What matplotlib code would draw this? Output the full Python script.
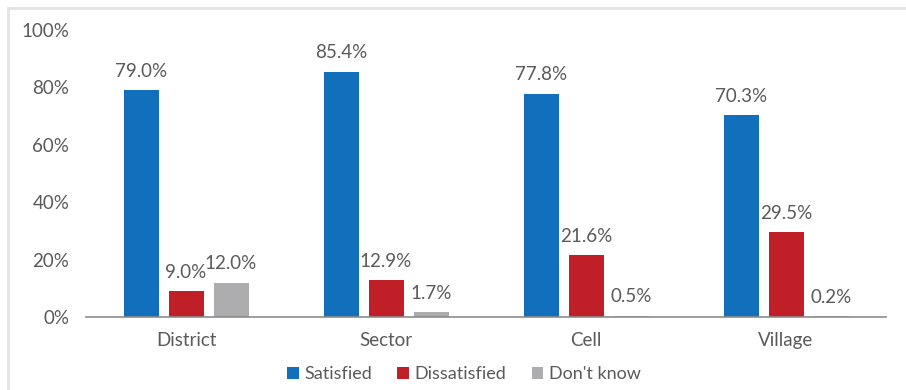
import matplotlib.pyplot as plt
import numpy as np
from matplotlib.lines import Line2D

plt.rcParams['font.family'] = ['Lato', 'DejaVu Sans']

levels = ['District', 'Sector', 'Cell', 'Village']
satisfied = [79.0, 85.4, 77.8, 70.3]
dissatisfied = [9.0, 12.9, 21.6, 29.5]
dont_know = [12.0, 1.7, 0.5, 0.2]
series_names = ['Satisfied', 'Dissatisfied', "Don't know"]
colors = ['#116FBB', '#C01F28', '#ADADB0']
txt = '#5A5A5A'

fig = plt.figure(figsize=(9.06, 3.9), dpi=100)
ax = fig.add_axes([86/906, 1-317/390, 800/906, 287/390])

x = np.arange(len(levels))
w = 0.175
off = 0.225
for k, (vals, name, c) in enumerate(zip([satisfied, dissatisfied, dont_know], series_names, colors)):
	pos = x + (k-1)*off
	ax.bar(pos, vals, width=w, color=c, label=name, zorder=2)
	for p, v in zip(pos, vals):
		ax.annotate('%.1f%%' % v, (p, v), xytext=(0, 7.5), textcoords='offset points',
			ha='center', va='bottom', fontsize=13.5, color=txt)

ax.set_xlim(-0.5, 3.5)
ax.set_ylim(0, 100)
ax.set_yticks(range(0, 101, 20))
ax.set_yticklabels(['%d%%' % t for t in range(0, 101, 20)])
ax.set_xticks(x)
ax.set_xticklabels(levels)
for s in ['top', 'right', 'left']:
	ax.spines[s].set_visible(False)
ax.spines['bottom'].set_color('#8C8C8C')
ax.spines['bottom'].set_linewidth(1.2)
ax.tick_params(axis='both', length=0, labelsize=13.5, colors=txt)
ax.tick_params(axis='y', pad=12)
ax.tick_params(axis='x', pad=11)

ax.legend(loc='center', bbox_to_anchor=(464/906, 1-374/390), bbox_transform=fig.transFigure,
	ncol=3, frameon=False, fontsize=13, labelcolor=txt, handlelength=0.65, handleheight=0.65,
	handletextpad=0.3, columnspacing=1.4)

# frame of the original chart box (top and left edges only visible)
fig.add_artist(Line2D([8/906, 1], [1-8/390, 1-8/390], color='#E3E3E3', lw=2, transform=fig.transFigure))
fig.add_artist(Line2D([8/906, 8/906], [0, 1-8/390], color='#E3E3E3', lw=2, transform=fig.transFigure))

fig.savefig('out.png', dpi=100)
